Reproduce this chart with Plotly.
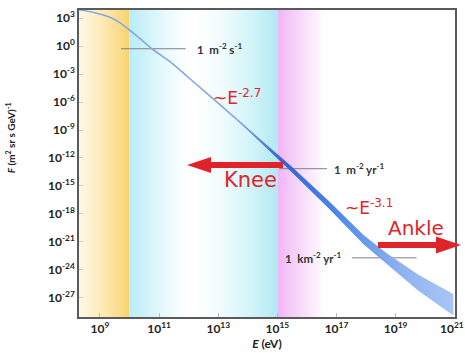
import plotly.graph_objects as go
import numpy as np

# ---------------- data ----------------
# all-particle cosmic-ray spectrum
energy_ev = [1.96e8, 6.8e8, 2.17e9, 4.7e9, 1.02e10, 2.22e10, 5.6e10, 2.65e11, 9.2e11,
             5.2e13, 2.9e15, 5.5e16, 8.4e17, 5.0e18, 5.9e19, 9.0e20]
flux = [7.8e3, 3.7e3, 1.2e3, 3.2e2, 4.9e1, 6.5, 5.1e-1, 1.6e-2, 5.1e-4,
        7.8e-9, 7.1e-14, 9.8e-18, 1.7e-21, 1.6e-23, 4.3e-26, 1.9e-28]
# uncertainty band (half width in decades) from 5.2e13 eV onward
band_start = 9
band_halfwidth_dec = [0.05, 0.3, 0.4, 0.5, 0.6, 0.85, 1.15]

# energy regions
yellow_band = [1.95e8, 1.0e10]
cyan_band = [1.0e10, 1.0e15]
magenta_band = [1.0e15, 4.4e16]

# reference flux levels
ref_labels = ["1&nbsp; m<sup>-2</sup> s<sup>-1</sup>", "1&nbsp; m<sup>-2</sup> yr<sup>-1</sup>",
              "1&nbsp; km<sup>-2</sup> yr<sup>-1</sup>"]
ref_flux = [5.1e-1, 7.1e-14, 2.0e-23]
ref_e0 = [5.1e9, 1.15e15, 3.3e17]
ref_e1 = [7.9e11, 4.8e16, 5.1e19]

x_tick_exp = [9, 11, 13, 15, 17, 19, 21]
y_tick_exp = [3, 0, -3, -6, -9, -12, -15, -18, -21, -24, -27]

X_RANGE = [8.29, 21.01]
Y_RANGE = [-29.04, 3.86]

ML, MR, MT, MB, W, H = 79, 10, 10, 36, 465, 353
PW, PH = W - ML - MR, H - MT - MB

def px2paper(px, py):
    return (px - ML) / PW, (H - MB - py) / PH

fig = go.Figure()

def grad_rect(x0, x1, scale):
    fig.add_trace(go.Scatter(
        x=[x0, x1, x1, x0, x0], y=[1e-31, 1e-31, 1e5, 1e5, 1e-31],
        mode="lines", line=dict(width=0), fill="toself",
        fillgradient=dict(type="horizontal", colorscale=scale),
        hoverinfo="skip", showlegend=False))

grad_rect(yellow_band[0], yellow_band[1],
          [[0, "#fff8e6"], [0.45, "#fdeab7"], [0.8, "#fbdc8a"], [1, "#f8d36c"]])
grad_rect(cyan_band[0], cyan_band[1],
          [[0, "#b8ecf8"], [0.25, "#eafafd"], [0.4, "#ffffff"], [0.6, "#f4fcfe"],
           [0.85, "#cdf3f8"], [1, "#b2e9f2"]])
grad_rect(magenta_band[0], magenta_band[1],
          [[0, "#f0b4f6"], [0.45, "#f7d8fa"], [1, "#ffffff"]])

# reference lines
for e0, e1, f in zip(ref_e0, ref_e1, ref_flux):
    fig.add_trace(go.Scatter(x=[e0, e1], y=[f, f], mode="lines",
                             line=dict(color="#808080", width=1),
                             hoverinfo="skip", showlegend=False))

# thin spectrum line
fig.add_trace(go.Scatter(x=energy_ev[:band_start + 2], y=flux[:band_start + 2],
                         mode="lines",
                         line=dict(color="#86a8df", width=1.6, shape="spline", smoothing=0.4),
                         hoverinfo="skip", showlegend=False))

# band
be = list(energy_ev[band_start:])
bf = np.array(flux[band_start:])
hw = 10 ** np.array(band_halfwidth_dec)
upper = list(bf * hw)
lower = list(bf / hw)
fig.add_trace(go.Scatter(
    x=be + be[::-1] + [be[0]],
    y=upper + lower[::-1] + [upper[0]],
    mode="lines", line=dict(width=0), fill="toself",
    fillgradient=dict(type="horizontal",
                      colorscale=[[0, "#86a8df"], [0.2, "#2f62d6"], [0.45, "#4d86e8"],
                                  [0.75, "#8db2f1"], [1, "#a9c5f5"]]),
    hoverinfo="skip", showlegend=False))

# reference labels
lab_pos = [(np.log10(ref_e1[0]) + 0.3, "left"), (np.log10(ref_e1[1]) + 0.17, "left"),
           (np.log10(ref_e0[2]) - 0.27, "right")]
for (xx, anc), t, f in zip(lab_pos, ref_labels, ref_flux):
    fig.add_annotation(x=xx, y=np.log10(f), text=t, showarrow=False,
                       xanchor=anc, yanchor="middle",
                       font=dict(family="Lato", size=11.5, color="#333333", weight="bold"))

red = "#e0242a"
fig.add_annotation(x=13.63, y=-5.5, text="~E<sup>-2.7</sup>", showarrow=False,
                   xanchor="center", yanchor="middle",
                   font=dict(family="DejaVu Sans", size=17, color=red))
fig.add_annotation(x=18.1, y=-17.3, text="~E<sup>-3.1</sup>", showarrow=False,
                   xanchor="center", yanchor="middle",
                   font=dict(family="DejaVu Sans", size=17, color=red))
fig.add_annotation(x=14.1, y=-14.4, text="Knee", showarrow=False,
                   xanchor="center", yanchor="middle",
                   font=dict(family="DejaVu Sans", size=21, color=red))
fig.add_annotation(x=19.7, y=-19.5, text="Ankle", showarrow=False,
                   xanchor="center", yanchor="middle",
                   font=dict(family="DejaVu Sans", size=20, color=red))

# arrows drawn as shapes (pixel layout -> paper coordinates)
def arrow(tail_x, base_x, tip_x, yc, shaft_half, head_half):
    pts = [(tail_x, yc - shaft_half), (base_x, yc - shaft_half), (base_x, yc - head_half),
           (tip_x, yc), (base_x, yc + head_half), (base_x, yc + shaft_half),
           (tail_x, yc + shaft_half)]
    pp = [px2paper(a, b) for a, b in pts]
    path = "M " + " L ".join(f"{u:.5f},{v:.5f}" for u, v in pp) + " Z"
    fig.add_shape(type="path", xref="paper", yref="paper", path=path,
                  fillcolor=red, line=dict(width=0), layer="above")

arrow(283, 211, 187, 165, 3, 8)
arrow(378, 436, 461, 245, 3, 8.5)

# y title
fig.add_annotation(xref="paper", yref="paper", x=-0.183, y=0.583,
                   xanchor="center", yanchor="middle",
                   text="<i>F</i> (m<sup>2</sup> sr s GeV)<sup>-1</sup>",
                   textangle=-90, showarrow=False,
                   font=dict(family="Lato", size=10, color="#222222", weight="bold"))

x_ticktext = [f"10<sup>{e}</sup>" for e in x_tick_exp]
x_ticktext[-1] = x_ticktext[-1] + "&nbsp;&nbsp;"

tickfont = dict(family="Lato", size=12, color="#222222", weight="bold")
fig.update_xaxes(type="log", range=X_RANGE, automargin=False,
                 tickvals=[10.0 ** e for e in x_tick_exp],
                 ticktext=x_ticktext, ticklabeloverflow="allow",
                 ticks="inside", ticklen=4, tickcolor="#bbbbbb",
                 showgrid=False, zeroline=False,
                 showline=True, linecolor="#5a5a5a", linewidth=1.5, mirror=True,
                 tickfont=tickfont,
                 title=dict(text="<i>E</i> (eV)", standoff=0,
                            font=dict(family="Lato", size=12, color="#222222", weight="bold")))
fig.update_yaxes(type="log", range=Y_RANGE, automargin=False,
                 tickvals=[10.0 ** e for e in y_tick_exp],
                 ticktext=[f"10<sup>{e}</sup>" for e in y_tick_exp],
                 ticks="inside", ticklen=4, tickcolor="#cccccc",
                 showgrid=False, zeroline=False,
                 showline=True, linecolor="#5a5a5a", linewidth=1.5, mirror=True,
                 tickfont=tickfont)

fig.update_layout(width=W, height=H, margin=dict(l=ML, r=MR, t=MT, b=MB),
                  paper_bgcolor="white", plot_bgcolor="white", showlegend=False)

fig.write_html("out.html")
